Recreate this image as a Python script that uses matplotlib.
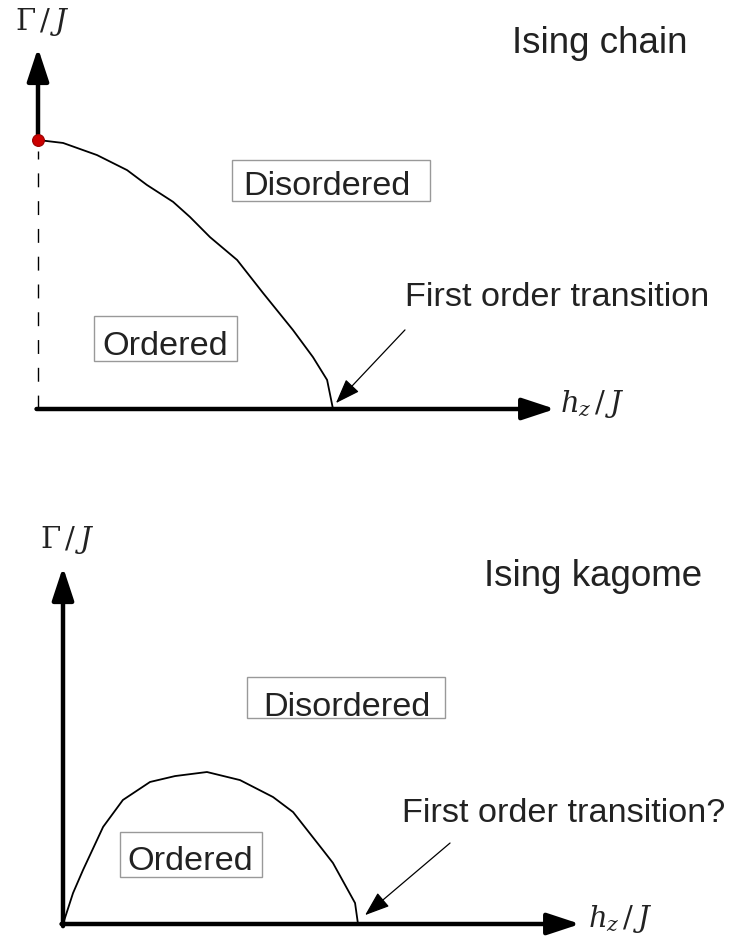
import numpy as np
import matplotlib
matplotlib.use('Agg')
import matplotlib.pyplot as plt
from matplotlib.patches import Rectangle

plt.rcParams['font.family'] = ['Liberation Sans', 'DejaVu Sans']
plt.rcParams['mathtext.fontset'] = 'dejavuserif'

# phase boundaries, Gamma/J against h_z/J (schematic units, transition at h_z = 1)
chain_h = [0.0, 0.085, 0.200, 0.302, 0.369, 0.458, 0.515, 0.583, 0.675, 0.763, 0.864, 0.932, 0.980, 1.0]
chain_g = [1.0, 0.989, 0.944, 0.888, 0.833, 0.770, 0.714, 0.639, 0.554, 0.431, 0.294, 0.193, 0.108, 0.0]

kagome_h = [0.0, 0.034, 0.068, 0.136, 0.203, 0.295, 0.380, 0.488, 0.600, 0.712, 0.780, 0.881, 0.915, 0.990, 1.0]
kagome_g = [0.0, 0.115, 0.201, 0.361, 0.461, 0.528, 0.550, 0.565, 0.535, 0.472, 0.416, 0.275, 0.227, 0.078, 0.0]

gamma_c = 1.0  # critical point of the chain at h_z = 0

W, H = 729, 938
fig = plt.figure(figsize=(W / 100, H / 100), dpi=100)

def panel(top, bottom, x0, y0, sx=295.0, sy=269.0):
    # axes band in pixel rows [top, bottom], origin of the diagram at (x0, y0)
    ax = fig.add_axes([0, 1 - bottom / H, 1, (bottom - top) / H])
    ax.set_xlim(-x0 / sx, (W - x0) / sx)
    ax.set_ylim((y0 - bottom) / sy, (y0 - top) / sy)
    ax.axis('off')
    return ax

def axis_arrow(ax, start, tip):
    ax.annotate('', xy=tip, xytext=start,
                arrowprops=dict(arrowstyle='-|>,head_length=1.0,head_width=0.33',
                                mutation_scale=20, lw=3.2, color='black',
                                shrinkA=0, shrinkB=0))

def label_box(ax, x0, x1, y0, y1, text, tx, ty):
    ax.add_patch(Rectangle((x0, y0), x1 - x0, y1 - y0, fill=False,
                           edgecolor='#999999', lw=1.0))
    ax.text(tx, ty, text, fontsize=24.7, color='#222222', va='baseline', ha='left')

def pointer(ax, start, tip):
    ax.annotate('', xy=tip, xytext=start,
                arrowprops=dict(arrowstyle='-|>,head_length=1.1,head_width=0.4',
                                mutation_scale=14, lw=0.9, color='black',
                                shrinkA=0, shrinkB=0))

txt = dict(fontsize=24.7, color='#222222', va='baseline', ha='left')
title = dict(fontsize=26.5, color='#222222', va='baseline', ha='left')
lab = dict(fontsize=21, color='#222222', va='baseline', ha='left')

# --- Ising chain ---
ax1 = panel(0, 469, 38, 409)
ax1.plot([0, 0], [0, 0.96], color='black', lw=1.0, dashes=(10, 10))
axis_arrow(ax1, (0, gamma_c), (0, 1.342))
axis_arrow(ax1, (-0.005, 0), (1.753, 0))
ax1.plot(chain_h, chain_g, color='black', lw=1.3, solid_joinstyle='round')
ax1.plot([0], [gamma_c], 'o', ms=8.5, color='#cc0000', mec='#990000', mew=0.8, zorder=5)
label_box(ax1, 0.658, 1.329, 0.773, 0.926, 'Disordered', 0.695, 0.796)
label_box(ax1, 0.190, 0.675, 0.178, 0.346, 'Ordered', 0.217, 0.201)
ax1.text(1.244, 0.383, 'First order transition', **txt)
pointer(ax1, (1.244, 0.294), (1.010, 0.022))
ax1.text(1.607, 1.323, 'Ising chain', **title)
ax1.text(-0.078, 1.409, r'$\Gamma\,/\,J$', **lab)
ax1.text(1.769, -0.011, r'$h_z\,/\,J$', **lab)

# --- Ising kagome ---
ax2 = panel(469, 938, 63, 924)
axis_arrow(ax2, (0, -0.008), (0, 1.327))
axis_arrow(ax2, (-0.005, 0), (1.753, 0))
ax2.plot(kagome_h, kagome_g, color='black', lw=1.3, solid_joinstyle='round')
label_box(ax2, 0.624, 1.295, 0.766, 0.918, 'Disordered', 0.678, 0.773)
label_box(ax2, 0.193, 0.675, 0.175, 0.342, 'Ordered', 0.217, 0.201)
ax2.text(1.149, 0.379, 'First order transition?', **txt)
pointer(ax2, (1.312, 0.301), (1.024, 0.033))
ax2.text(1.427, 1.257, 'Ising kagome', **title)
ax2.text(-0.078, 1.398, r'$\Gamma\,/\,J$', **lab)
ax2.text(1.780, -0.011, r'$h_z\,/\,J$', **lab)

fig.savefig('out.png', dpi=100)
